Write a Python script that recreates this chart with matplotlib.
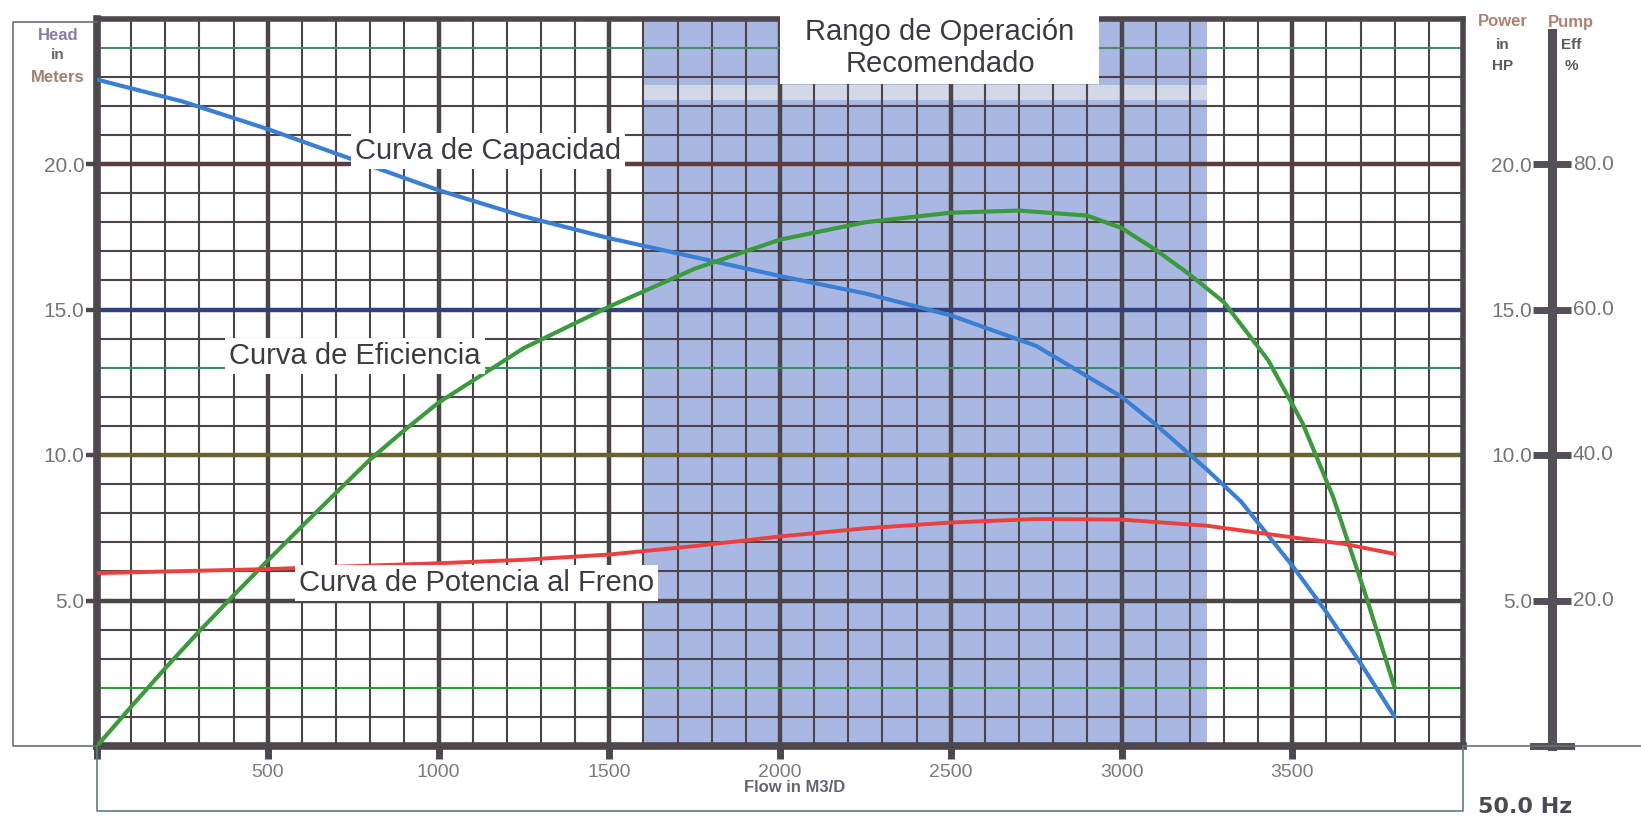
import numpy as np
import matplotlib
matplotlib.use("Agg")
import matplotlib.pyplot as plt
from matplotlib.lines import Line2D
from matplotlib.patches import Rectangle

plt.rcParams['font.family'] = ['Liberation Sans', 'DejaVu Sans']

# head curve (m) vs flow (m3/day)
flow_head = [0, 250, 500, 750, 1000, 1250, 1500, 1750, 2000, 2250, 2500, 2750,
             3000, 3100, 3250, 3350, 3500, 3600, 3700, 3800]
head = [22.9, 22.15, 21.2, 20.15, 19.1, 18.2, 17.45, 16.8, 16.15, 15.55, 14.8, 13.75,
        12.0, 11.05, 9.5, 8.4, 6.2, 4.6, 2.85, 1.0]

# pump efficiency (%)
flow_eff = [0, 100, 200, 300, 400, 500, 600, 700, 800, 900, 1000, 1250, 1500, 1750,
            2000, 2250, 2500, 2700, 2900, 3000, 3100, 3200, 3300, 3430, 3530, 3620,
            3720, 3800]
eff = [0, 5.4, 10.7, 15.8, 20.7, 25.5, 30.2, 34.8, 39.4, 43.4, 47.2, 54.7, 60.4, 65.6,
       69.6, 72.0, 73.3, 73.6, 72.9, 71.2, 68.2, 64.8, 61.0, 53.0, 44.4, 34.2,
       20.0, 8.0]

# brake power (HP)
flow_power = [0, 500, 1000, 1250, 1500, 1750, 2000, 2250, 2500, 2750, 3000, 3250,
              3500, 3650, 3800]
power = [5.94, 6.08, 6.28, 6.4, 6.58, 6.87, 7.2, 7.48, 7.68, 7.8, 7.78, 7.57,
         7.17, 6.95, 6.6]

# recommended operating range
range_flow = [1600, 3250]

x_ticks = [0, 500, 1000, 1500, 2000, 2500, 3000, 3500]
x_tick_labels = ['', '500', '1000', '1500', '2000', '2500', '3000', '3500']
head_ticks = [5, 10, 15, 20]
head_tick_labels = ['5.0', '10.0', '15.0', '20.0']
hp_tick_labels = ['5.0', '10.0', '15.0', '20.0']
eff_ticks = [20, 40, 60, 80]
eff_tick_labels = ['20.0', '40.0', '60.0', '80.0']

W, H = 1641, 818
fig = plt.figure(figsize=(W / 100, H / 100), dpi=100)

def fx(px):
    return px / W

def fy(py):
    return 1 - py / H

ax = fig.add_axes([fx(97), fy(746), fx(1463) - fx(97), fy(18.5) - fy(746)])
ax.set_xlim(0, 4000)
ax.set_ylim(0, 25)

grid_col = '#4b4549'
# shaded range
ax.axvspan(range_flow[0], range_flow[1], color='#a9b8e2', zorder=0, lw=0)
ax.fill_between(range_flow, 22.2, 22.7, color='#d2d8e6', zorder=0.5, lw=0)

# vertical grid
for xv in range(100, 4000, 100):
    if xv % 500 == 0:
        ax.axvline(xv, color=grid_col, lw=3.2, zorder=1)
    else:
        ax.axvline(xv, color=grid_col, lw=1.5, zorder=1)

# horizontal grid
major_cols = {5: '#4a4646', 10: '#6a6230', 15: '#33407e', 20: '#5c3c3c'}
minor_cols = {2: '#2f9a3e', 13: '#3a8a6a', 24: '#4a8a6a'}
for yv in range(1, 25):
    if yv in major_cols:
        ax.axhline(yv, color=major_cols[yv], lw=3.2, zorder=1.2)
    else:
        ax.axhline(yv, color=minor_cols.get(yv, grid_col), lw=1.5, zorder=1.1)

for s in ax.spines.values():
    s.set_color('#4e484e')
    s.set_linewidth(4)
ax.spines['left'].set_linewidth(5.5)
ax.spines['bottom'].set_linewidth(5.5)

ax.set_xticks(x_ticks)
ax.set_xticklabels(x_tick_labels)
ax.set_yticks(head_ticks)
ax.set_yticklabels(head_tick_labels)
ax.tick_params(axis='x', direction='out', length=9, width=5, color='#4e484e',
               labelsize=14, labelcolor='#7a7a82', pad=4)
ax.tick_params(axis='y', direction='out', length=8, width=3.2, color='#4e484e',
               labelsize=15, labelcolor='#747478', pad=1)

# curves
ax.plot(flow_head, head, color='#3b7fd4', lw=3, zorder=5, solid_capstyle='round')
ax_eff = ax.twinx()
ax_eff.set_ylim(0, 100)
ax_eff.axis('off')
ax_eff.plot(flow_eff, eff, color='#3a9a3c', lw=3, zorder=5, solid_capstyle='round')
ax_hp = ax.twinx()
ax_hp.set_ylim(0, 25)
ax_hp.axis('off')
ax_hp.plot(flow_power, power, color='#ea4040', lw=2.8, zorder=5, solid_capstyle='round')

lab_kw = dict(fontsize=21, color='#3e3a44', va='center', ha='left', zorder=6,
              bbox=dict(facecolor='white', edgecolor='none', pad=3))
ax_hp.text(756, 20.45, 'Curva de Capacidad', **lab_kw)
ax_hp.text(387, 13.4, 'Curva de Eficiencia', **lab_kw)
ax_hp.text(591, 5.6, 'Curva de Potencia al Freno', **lab_kw)

ax.set_xlabel('Flow in M3/D', fontsize=12, fontweight='bold', color='#6a6272')
ax.xaxis.set_label_coords((795 - 97) / 1366, -34 / 727.5)

# title box
fig.patches.append(Rectangle((fx(780), fy(84)), fx(1099) - fx(780), fy(0) - fy(84),
                             transform=fig.transFigure, facecolor='white',
                             edgecolor='none', zorder=10))
fig.text(fx(940), fy(48), 'Rango de Operación\nRecomendado', fontsize=21,
         color='#3e3a44', ha='center', va='center', linespacing=1.15, zorder=11)

# left axis header
fig.text(fx(58), fy(35), 'Head', fontsize=12, fontweight='bold', color='#8a7aa8', ha='center', va='center')
fig.text(fx(58), fy(55), 'in', fontsize=11, fontweight='bold', color='#6a6a6a', ha='center', va='center')
fig.text(fx(58), fy(78), 'Meters', fontsize=12, fontweight='bold', color='#a08070', ha='center', va='center')

# right axis (HP / efficiency)
ax2 = fig.add_axes([fx(1552), fy(746), 0.0, fy(18.5) - fy(746)])
ax2.set_ylim(0, 25)
ax2.set_xticks([])
for k in ['top', 'bottom', 'right']:
    ax2.spines[k].set_visible(False)
ax2.spines['left'].set_color('#555058')
ax2.spines['left'].set_linewidth(6.5)
ax2.spines['left'].set_bounds(0, 24.5)
ax2.set_yticks(head_ticks)
ax2.set_yticklabels(hp_tick_labels)
ax2.tick_params(axis='y', direction='inout', length=27, width=5, color='#555058',
                labelsize=15, labelcolor='#747478', pad=1)
ax3 = fig.add_axes([fx(1552), fy(746), 0.0, fy(18.5) - fy(746)])
ax3.set_ylim(0, 100)
ax3.axis('off')
for t, lab in zip(eff_ticks, eff_tick_labels):
    ax3.annotate(lab, xy=(0, t), xycoords=ax3.get_yaxis_transform(),
                 xytext=(15, 0), textcoords='offset points', ha='left',
                 va='center', fontsize=15, color='#747478')
fig.add_artist(Line2D([fx(1533), fx(1571)], [fy(746), fy(746)], color='#555058', lw=5))

fig.text(fx(1503), fy(22), 'Power', fontsize=12, fontweight='bold', color='#b08070', ha='center', va='center')
fig.text(fx(1571), fy(22), 'Pump', fontsize=12, fontweight='bold', color='#b08070', ha='center', va='center')
fig.text(fx(1503), fy(45), 'in', fontsize=11, fontweight='bold', color='#5a5a60', ha='center', va='center')
fig.text(fx(1571), fy(45), 'Eff', fontsize=11, fontweight='bold', color='#5a5a60', ha='center', va='center')
fig.text(fx(1503), fy(66), 'HP', fontsize=11, fontweight='bold', color='#5a5a60', ha='center', va='center')
fig.text(fx(1571), fy(66), '%', fontsize=11, fontweight='bold', color='#5a5a60', ha='center', va='center')

# outer frame lines
frame_col = '#687078'
fig.add_artist(Line2D([fx(97), fx(13), fx(13), fx(97)], [fy(22), fy(22), fy(746), fy(746)],
                      color=frame_col, lw=1.2))
fig.add_artist(Line2D([fx(97), fx(97), fx(1463), fx(1463)], [fy(746), fy(811), fy(811), fy(746)],
                      color='#5a8080', lw=1.2))
fig.add_artist(Line2D([fx(1463), fx(1641)], [fy(746), fy(746)], color=frame_col, lw=1.2))

fig.text(fx(1525), fy(807), '50.0 Hz', family='DejaVu Sans', fontsize=16,
         fontweight='bold', color='#4a4a55', ha='center', va='center')

fig.savefig('out.png', dpi=100)
